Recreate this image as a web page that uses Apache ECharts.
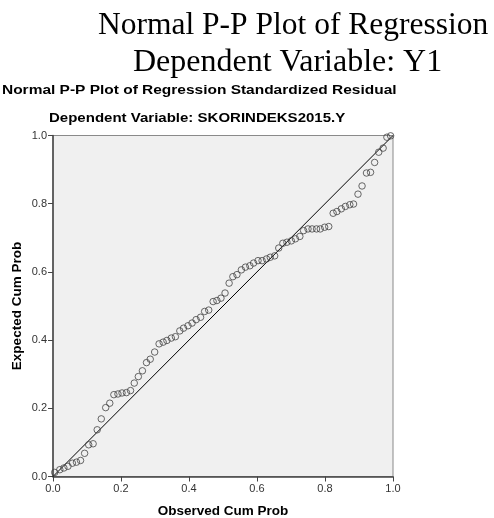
<!DOCTYPE html>
<html>
<head>
<meta charset="utf-8">
<script src="https://cdn.jsdelivr.net/npm/echarts@6/dist/echarts.min.js"></script>
<style>
  html, body { margin: 0; padding: 0; background: #fff; }
  #chart { width: 494px; height: 518px; }
</style>
</head>
<body>
<div id="chart"></div>
<script>
// observed cum prob (x) / expected cum prob (y)
var observed = [
    0.005, 0.02, 0.032, 0.044, 0.057, 0.069, 0.081, 0.093, 0.105, 0.118,
    0.13, 0.142, 0.155, 0.167, 0.179, 0.191, 0.203, 0.216, 0.228, 0.239,
    0.251, 0.263, 0.275, 0.286, 0.299, 0.312, 0.324, 0.335, 0.348, 0.36,
    0.373, 0.384, 0.397, 0.409, 0.421, 0.434, 0.446, 0.458, 0.471, 0.482,
    0.494, 0.506, 0.518, 0.529, 0.541, 0.554, 0.566, 0.579, 0.59, 0.603,
    0.615, 0.628, 0.639, 0.652, 0.664, 0.676, 0.688, 0.701, 0.713, 0.726,
    0.737, 0.75, 0.762, 0.775, 0.786, 0.799, 0.811, 0.824, 0.835, 0.848,
    0.86, 0.873, 0.884, 0.897, 0.909, 0.922, 0.934, 0.946, 0.958, 0.971,
    0.982, 0.993
]
var expected = [
    0.012, 0.02, 0.025, 0.03, 0.039, 0.042, 0.047, 0.068, 0.093, 0.096,
    0.137, 0.169, 0.202, 0.215, 0.24, 0.242, 0.245, 0.246, 0.252, 0.274,
    0.293, 0.31, 0.334, 0.344, 0.365, 0.389, 0.394, 0.399, 0.406, 0.41,
    0.427, 0.435, 0.442, 0.45, 0.46, 0.467, 0.484, 0.488, 0.513, 0.516,
    0.523, 0.538, 0.567, 0.586, 0.592, 0.606, 0.614, 0.618, 0.626, 0.633,
    0.633, 0.638, 0.643, 0.647, 0.67, 0.684, 0.687, 0.691, 0.697, 0.704,
    0.721, 0.726, 0.726, 0.726, 0.726, 0.731, 0.733, 0.772, 0.777, 0.785,
    0.792, 0.797, 0.799, 0.828, 0.852, 0.89, 0.892, 0.921, 0.951, 0.963,
    0.995, 0.999
]
// diagonal reference line
var refLine = [[0, 0], [1, 1]]

var points = observed.map(function (x, i) { return [x, expected[i]] })

var sans = '"Liberation Sans", Arial, sans-serif'
var serif = '"Liberation Serif", "Times New Roman", serif'

var myChart = echarts.init(document.getElementById('chart'))
var option = {
    animation: false,
    title: [
        {
            text: 'Normal P-P Plot of Regression',
            left: 93, top: 5,
            textStyle: { fontFamily: serif, fontSize: 31.5, fontWeight: 'normal', color: '#000' }
        },
        {
            text: 'Dependent Variable: Y1',
            left: 128, top: 42,
            textStyle: { fontFamily: serif, fontSize: 32, fontWeight: 'normal', color: '#000' }
        }
    ],
    // SPSS headings look horizontally stretched, so scale them a little
    graphic: [
        {
            type: 'text', x: 2, y: 90, scaleX: 1.19,
            style: {
                text: 'Normal P-P Plot of Regression Standardized Residual',
                font: 'bold 13px ' + sans, fill: '#000', verticalAlign: 'middle'
            }
        },
        {
            type: 'text', x: 49, y: 118, scaleX: 1.155,
            style: {
                text: 'Dependent Variable: SKORINDEKS2015.Y',
                font: 'bold 13px ' + sans, fill: '#000', verticalAlign: 'middle'
            }
        }
    ],
    grid: {
        left: 53, top: 135.5, width: 340, height: 341,
        outerBoundsMode: 'none',
        containLabel: false,
        show: true,
        backgroundColor: '#f0f0f0',
        borderColor: '#8a8a8a',
        borderWidth: 1
    },
    xAxis: {
        type: 'value',
        min: 0, max: 1, interval: 0.2,
        name: 'Observed Cum Prob',
        nameLocation: 'middle',
        nameGap: 28,
        nameMoveOverlap: false,
        nameTextStyle: { fontFamily: sans, fontSize: 13.5, fontWeight: 'bold', color: '#000' },
        axisLine: { show: true, lineStyle: { color: '#444', width: 1.5 } },
        axisTick: { show: true, length: 5, lineStyle: { color: '#444' } },
        axisLabel: {
            fontFamily: sans, fontSize: 11, color: '#333', margin: 7,
            formatter: function (v) { return v.toFixed(1) }
        },
        splitLine: { show: false }
    },
    yAxis: {
        type: 'value',
        min: 0, max: 1, interval: 0.2,
        name: 'Expected Cum Prob',
        nameLocation: 'middle',
        nameGap: 29,
        nameMoveOverlap: false,
        nameTextStyle: { fontFamily: sans, fontSize: 13.5, fontWeight: 'bold', color: '#000' },
        axisLine: { show: true, lineStyle: { color: '#444', width: 1.5 } },
        axisTick: { show: true, length: 5, lineStyle: { color: '#444' } },
        axisLabel: {
            fontFamily: sans, fontSize: 11, color: '#333', margin: 6,
            formatter: function (v) { return v.toFixed(1) }
        },
        splitLine: { show: false }
    },
    series: [
        {
            type: 'line',
            data: refLine,
            symbol: 'none',
            lineStyle: { color: '#000', width: 1 },
            z: 3
        },
        {
            type: 'scatter',
            data: points,
            symbol: 'circle',
            symbolSize: 6.5,
            itemStyle: { color: 'transparent', borderColor: '#444', borderWidth: 1 },
            z: 4
        }
    ]
}
myChart.setOption(option)
</script>
</body>
</html>
